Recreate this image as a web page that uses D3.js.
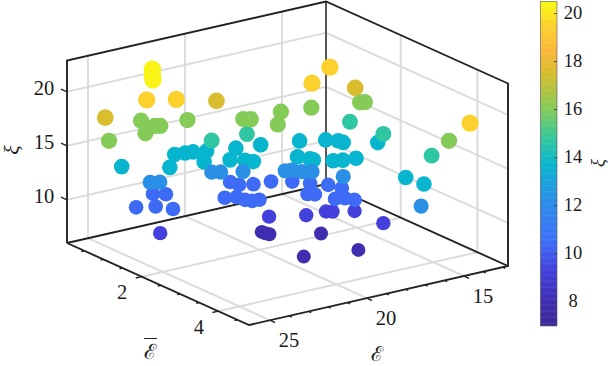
<!DOCTYPE html>
<html>
<head>
<meta charset="utf-8">
<style>
  body { margin: 0; background: #fff; }
  text { font-family: "Liberation Serif", "DejaVu Serif", serif; fill: #1a1a1a; }
</style>
<script src="https://cdn.jsdelivr.net/npm/d3@7"></script>
</head>
<body>
<svg class="chart" width="608" height="366"></svg>
<script>
// data, in drawing order
const energy = [
  20.21, 20.19, 20.13, 18.30, 18.27, 20.65,
  24.85, 19.87, 18.49, 17.53, 17.31, 16.51, 16.45,
  23.01, 22.60, 24.61, 23.88, 23.48, 20.85, 19.47, 19.38, 18.84, 18.03, 20.40, 20.32,
  20.16, 19.82, 17.31, 16.83, 17.73, 17.51, 16.33, 16.12, 17.16, 16.77, 16.57,
  24.72, 23.13, 21.99, 21.51, 21.16, 20.62, 21.54, 20.50, 19.41, 20.03, 19.83, 18.31,
  16.68, 17.95, 17.69, 17.65, 15.71, 15.34, 15.30, 17.04, 16.66, 16.06, 14.13, 15.83, 15.70,
  23.79, 23.45, 20.91, 20.61, 19.79, 18.29, 18.00, 17.78, 17.44, 16.74, 16.32,
  20.48, 18.78, 14.32, 14.10, 14.10,
  25.08, 22.46, 23.26, 22.38, 22.20, 20.82, 18.83, 18.58, 16.99, 18.06, 15.64, 13.56, 13.39, 13.44,
  19.68, 24.76, 13.95,
  23.55, 22.50, 16.63, 14.80, 14.25,
  21.68, 22.13, 22.48
];
const meanEnergy = [
  2.16, 2.24, 2.32, 2.74, 3.70, 3.48,
  1.86, 2.18, 2.45, 2.48, 2.54, 2.71, 3.43,
  0.74, 0.87, 1.11, 1.25, 1.50, 1.52, 0.96, 1.15, 1.25, 1.30, 1.60, 1.78,
  1.88, 1.90, 1.49, 1.71, 2.10, 2.18, 1.93, 2.18, 2.53, 2.59, 2.74,
  0.79, 1.24, 0.79, 0.82, 0.85, 0.93, 1.33, 1.48, 1.08, 1.63, 1.75, 1.17,
  1.36, 1.95, 2.14, 2.21, 1.55, 1.69, 1.80, 2.42, 2.48, 2.52, 2.11, 3.70, 4.11,
  1.06, 1.14, 1.21, 1.29, 1.46, 1.80, 1.83, 1.98, 2.07, 2.53, 4.35,
  0.99, 1.05, 1.48, 2.24, 3.50,
  0.64, 0.15, 0.67, 0.47, 0.52, 0.53, 0.98, 1.05, 1.03, 1.49, 1.14, 1.36, 1.40, 3.62,
  0.71, 0.38, 1.43,
  0.85, 1.09, 1.66, 1.20, 4.58,
  0.05, 0.28, 0.47
];
const xi = [
  8, 8, 8, 8, 8, 8,
  9.3, 9.3, 9.3, 9.3, 9.3, 9.3, 9.3,
  10.4, 10.4, 10.4, 10.4, 10.4, 10.4, 10.4, 10.4, 10.4, 10.4, 10.4, 10.4,
  10.4, 10.4, 10.4, 10.4, 10.4, 10.4, 10.4, 10.4, 10.4, 10.4, 10.4,
  13.7, 13.7, 13.7, 13.7, 13.7, 13.7, 13.7, 13.7, 13.7, 13.7, 13.7, 13.7,
  13.7, 13.7, 13.7, 13.7, 13.7, 13.7, 13.7, 13.7, 13.7, 13.7, 13.7, 13.7, 13.7,
  12.3, 12.3, 12.3, 12.3, 12.3, 12.3, 12.3, 12.3, 12.3, 12.3, 12.3,
  14.7, 14.7, 14.7, 14.7, 14.7,
  16, 16, 16, 16, 16, 16, 16, 16, 16, 16, 16, 16, 16, 16,
  17.6, 17.6, 17.6,
  19.5, 19.5, 19.5, 19.5, 19.5,
  20.3, 20.3, 20.3
];

const energyTicks = [15, 20, 25];
const meanEnergyTicks = [2, 4];
const xiTicks = [10, 15, 20];
const colorbarTicks = [8, 10, 12, 14, 16, 18, 20];

const colorStops = [7, 8, 9.3, 10.5, 12.3, 13.7, 14.7, 16, 17.5, 18.45, 19.5, 20.5];
const colorValues = ["#3b2a98", "#3f2fb0", "#4340dc", "#3e6ff8", "#2a90e6", "#08b5ce",
  "#2fc6a2", "#84cb58", "#d6bc2e", "#fbb83a", "#fdd12d", "#f9fb12"];

// config
const energyRange = [12.73, 26.08];
const meanEnergyRange = [0.05, 4.8];
const xiRange = [6, 22.9];
const backCorner = [326, 184];
const axisColor = "#222";
const gridColor = "#dcdcdc";

const svg = d3.select("svg.chart");

const color = d3.scaleLinear().domain(colorStops).range(colorValues);
const radius = d3.scaleLinear().domain([8, 20]).range([7, 8.7]);

// the box is an orthographic view, so each axis just adds its own screen offset
const eX = d3.scaleLinear().domain(energyRange).range([0, -259]);
const eY = d3.scaleLinear().domain(energyRange).range([0, 59]);
const bX = d3.scaleLinear().domain(meanEnergyRange).range([0, 182]);
const bY = d3.scaleLinear().domain(meanEnergyRange).range([0, 82]);
const zY = d3.scaleLinear().domain(xiRange).range([0, -182.5]);

function project(e, b, z) {
  return [backCorner[0] + eX(e) + bX(b), backCorner[1] + eY(e) + bY(b) + zY(z)];
}

const [eMin, eMax] = energyRange;
const [bMin, bMax] = meanEnergyRange;
const [zMin, zMax] = xiRange;

function drawPath(points, stroke, width) {
  svg.append("path")
    .attr("d", d3.line()(points))
    .attr("fill", "none")
    .attr("stroke", stroke)
    .attr("stroke-width", width);
}

// Grid
energyTicks.forEach(e => {
  drawPath([project(e, bMin, zMax), project(e, bMin, zMin), project(e, bMax, zMin)], gridColor, 2);
});
meanEnergyTicks.forEach(b => {
  drawPath([project(eMin, b, zMax), project(eMin, b, zMin), project(eMax, b, zMin)], gridColor, 2);
});
xiTicks.forEach(z => {
  drawPath([project(eMax, bMin, z), project(eMin, bMin, z), project(eMin, bMax, z)], gridColor, 2);
});

// Box
drawPath([project(eMin, bMin, zMin), project(eMin, bMin, zMax)], "#444", 1.8);
drawPath([project(eMax, bMin, zMin), project(eMin, bMin, zMin), project(eMin, bMax, zMin)], axisColor, 1.9);
drawPath([project(eMax, bMin, zMin), project(eMax, bMin, zMax), project(eMin, bMin, zMax),
  project(eMin, bMax, zMax), project(eMin, bMax, zMin), project(eMax, bMax, zMin),
  project(eMax, bMin, zMin)], axisColor, 1.9);

// Ticks
function tick(from, dx, dy) {
  drawPath([from, [from[0] + dx, from[1] + dy]], axisColor, 1.4);
}
d3.range(13, 26).forEach(e => {
  const major = energyTicks.includes(e);
  tick(project(e, bMax, zMin), major ? 5 : 2.5, major ? 2.4 : 1.2);
});
d3.range(0.5, 4.8, 0.5).forEach(b => {
  const major = meanEnergyTicks.includes(b);
  tick(project(eMax, b, zMin), major ? -6 : -3, major ? 1.3 : 0.7);
});
xiTicks.forEach(z => tick(project(eMax, bMin, z), -6, -2.6));

// Tick labels
function label(text, pos, size) {
  return svg.append("text")
    .attr("x", pos[0])
    .attr("y", pos[1])
    .attr("text-anchor", "middle")
    .attr("dominant-baseline", "central")
    .attr("font-size", size)
    .text(text);
}
energyTicks.forEach(e => {
  const p = project(e, bMax, zMin);
  label(e, [p[0] + 19, p[1] + 20], 20.5);
});
meanEnergyTicks.forEach(b => {
  const p = project(eMax, b, zMin);
  label(b, [p[0] - 19.5, p[1] + 15.5], 20.5);
});
xiTicks.forEach(z => {
  const p = project(eMax, bMin, z);
  label(z, [p[0] - 23, p[1] - 3.5], 20.5);
});

// Axis titles, on their baselines so that the edge of the picture does not cut them
function title(text, x, y, size, angle) {
  return svg.append("text")
    .attr("transform", `translate(${x},${y}) rotate(${angle})`)
    .attr("text-anchor", "middle")
    .attr("font-size", size)
    .text(text);
}
title("ℰ", 377, 361, 20.5, 0);
title("ℰ", 150.5, 359, 21, 0);
drawPath([[144, 338.5], [157, 338.5]], axisColor, 1);
title("ξ", 18.5, 150, 22, -90).attr("font-style", "italic");

// Points
svg.append("g")
  .selectAll("circle")
  .data(xi.map((z, i) => ({ e: energy[i], b: meanEnergy[i], z })))
  .enter()
  .append("circle")
  .attr("cx", d => project(d.e, d.b, d.z)[0])
  .attr("cy", d => project(d.e, d.b, d.z)[1])
  .attr("r", d => radius(d.z))
  .attr("fill", d => color(d.z));

// Colorbar
const barX = 540.5;
const barWidth = 16.5;
const barY = d3.scaleLinear().domain([7, 20.5]).range([325.7, 1.5]);
const barGroup = svg.append("g");

barGroup.selectAll("rect")
  .data(d3.range(7, 20.5, 0.05))
  .enter()
  .append("rect")
  .attr("x", barX)
  .attr("y", d => barY(d + 0.05))
  .attr("width", barWidth)
  .attr("height", d => barY(d) - barY(d + 0.05) + 0.5)
  .attr("fill", d => color(d));

barGroup.append("rect")
  .attr("x", barX)
  .attr("y", barY(20.5))
  .attr("width", barWidth)
  .attr("height", barY(7) - barY(20.5))
  .attr("fill", "none")
  .attr("stroke", "#555")
  .attr("stroke-opacity", 0.75)
  .attr("stroke-width", 0.8);

colorbarTicks.forEach(v => {
  drawPath([[barX + barWidth - 3, barY(v)], [barX + barWidth, barY(v)]], "#333", 0.8);
  label(v, [573, barY(v) - 0.5], 18.5);
});
title("ξ", 604, 163, 18.5, -90).attr("font-style", "italic");
</script>
</body>
</html>
